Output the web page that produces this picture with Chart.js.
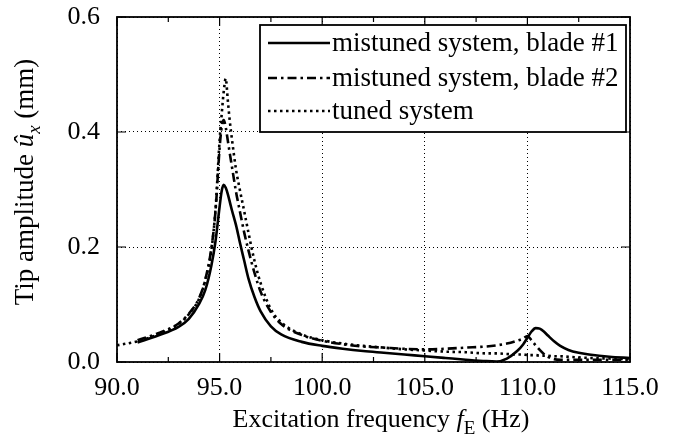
<!DOCTYPE html>
<html>
<head>
<meta charset="utf-8">
<script src="https://cdn.jsdelivr.net/npm/chart.js@4.4.1/dist/chart.umd.min.js"></script>
<style>
  html, body { margin: 0; padding: 0; background: #fff; }
  #wrap { width: 674px; height: 443px; }
</style>
</head>
<body>
<div id="wrap"><canvas id="chart" width="674" height="443"></canvas></div>
<script>
// ===== data =====
const freqs = [90, 91, 92, 93, 93.5, 94, 94.3, 94.6, 94.8, 95.0, 95.1, 95.2, 95.3, 95.4, 95.5, 95.6,
  95.8, 96.0, 96.2, 96.4, 96.7, 97.0, 97.5, 98.0, 99, 100, 101, 102, 103, 104, 105, 106, 107, 108,
  108.5, 109, 109.5, 109.8, 110, 110.2, 110.4, 110.6, 110.8, 111, 111.3, 111.6, 112, 112.5, 113, 114, 115];

const blade1Amp = [null, 0.034, 0.046, 0.061, 0.075, 0.101, 0.125, 0.168, 0.21, 0.27, 0.297, 0.308, 0.303, 0.292, 0.278, 0.264,
  0.238, 0.206, 0.176, 0.146, 0.113, 0.088, 0.062, 0.048, 0.035, 0.028, 0.023, 0.019, 0.016, 0.013, 0.010, 0.007, 0.004, 0.0015,
  0.001, 0.006, 0.019, 0.031, 0.042, 0.053, 0.059, 0.058, 0.053, 0.046, 0.036, 0.028, 0.021, 0.016, 0.013, 0.009, 0.007];

const blade2Amp = [null, 0.038, 0.050, 0.067, 0.084, 0.111, 0.143, 0.198, 0.262, 0.372, 0.408, 0.421, 0.408, 0.385, 0.362, 0.340,
  0.296, 0.260, 0.225, 0.195, 0.155, 0.122, 0.087, 0.066, 0.047, 0.037, 0.031, 0.027, 0.025, 0.023, 0.022, 0.023, 0.025, 0.027,
  0.029, 0.032, 0.037, 0.041, 0.045, 0.038, 0.029, 0.021, 0.014, 0.009, 0.005, 0.004, 0.004, 0.004, 0.004, 0.004, 0.004];

const tunedAmp = [0.029, 0.036, 0.048, 0.066, 0.083, 0.110, 0.142, 0.195, 0.265, 0.385, 0.43, 0.47, 0.493, 0.455, 0.418, 0.388,
  0.335, 0.297, 0.262, 0.226, 0.176, 0.137, 0.092, 0.069, 0.048, 0.038, 0.032, 0.028, 0.025, 0.022, 0.020, 0.018, 0.017, 0.015,
  0.015, 0.014, 0.013, 0.013, 0.012, 0.012, 0.012, 0.011, 0.011, 0.011, 0.010, 0.010, 0.009, 0.008, 0.007, 0.006, 0.005];

const seriesLabels = ['mistuned system, blade #1', 'mistuned system, blade #2', 'tuned system'];
const xTicks = [90, 95, 100, 105, 110, 115];
const yTicks = [0, 0.2, 0.4, 0.6];

const SERIF = '"Liberation Serif", "DejaVu Serif", serif';
const FS = 26;      // tick labels, x title
const FS_BIG = 27;  // legend, y title

const pts = arr => freqs.map((f, i) => ({ x: f, y: arr[i] }));

// draws a line of text made of plain / italic / subscript pieces, centred on (cx, cy)
function drawRich(ctx, parts, cx, cy, angle, size) {
    ctx.save();
    ctx.translate(cx, cy);
    ctx.rotate(angle);
    ctx.textAlign = 'left';
    ctx.textBaseline = 'alphabetic';
    ctx.fillStyle = '#000';
    const fontOf = p => `${p.italic ? 'italic ' : ''}${p.sub ? Math.round(size * 0.72) : size}px ${SERIF}`;
    let total = 0;
    const widths = parts.map(p => { ctx.font = fontOf(p); const w = ctx.measureText(p.t).width; total += w; return w; });
    let xx = -total / 2;
    parts.forEach((p, i) => {
        ctx.font = fontOf(p);
        ctx.fillText(p.t, xx, p.sub ? size * 0.26 : 0);
        xx += widths[i];
    });
    ctx.restore();
}

const framePlugin = {
    id: 'frame',
    afterDatasetsDraw(chart) {
        const { ctx, chartArea: a, scales: { x, y } } = chart;
        ctx.save();
        ctx.strokeStyle = '#000';
        ctx.setLineDash([]);
        ctx.lineWidth = 1.2;
        ctx.beginPath();
        xTicks.forEach((v, i) => {
            const px = x.getPixelForValue(v);
            ctx.moveTo(px, a.bottom); ctx.lineTo(px, a.bottom - 9);
            ctx.moveTo(px, a.top); ctx.lineTo(px, a.top + 9);
            if (i < xTicks.length - 1) {
                const pm = x.getPixelForValue((v + xTicks[i + 1]) / 2);
                ctx.moveTo(pm, a.bottom); ctx.lineTo(pm, a.bottom - 5);
                ctx.moveTo(pm, a.top); ctx.lineTo(pm, a.top + 5);
            }
        });
        yTicks.forEach(v => {
            const py = y.getPixelForValue(v);
            ctx.moveTo(a.left, py); ctx.lineTo(a.left + 9, py);
            ctx.moveTo(a.right, py); ctx.lineTo(a.right - 9, py);
        });
        ctx.stroke();
        ctx.lineWidth = 1.8;
        ctx.strokeRect(a.left, a.top, a.right - a.left, a.bottom - a.top);
        ctx.restore();
    },
    afterDraw(chart) {
        const { ctx } = chart;
        // legend box
        const bx = 260, by = 25, bw = 366, bh = 107;
        ctx.save();
        ctx.fillStyle = '#fff';
        ctx.fillRect(bx, by, bw, bh);
        ctx.strokeStyle = '#000';
        ctx.lineWidth = 1.8;
        ctx.setLineDash([]);
        ctx.strokeRect(bx, by, bw, bh);
        const rows = [43, 78, 111];
        chart.data.datasets.forEach((ds, i) => {
            ctx.strokeStyle = '#000';
            ctx.lineWidth = ds.borderWidth;
            ctx.setLineDash(ds.borderDash || []);
            ctx.beginPath();
            ctx.moveTo(268, rows[i]);
            ctx.lineTo(330, rows[i]);
            ctx.stroke();
            ctx.setLineDash([]);
            ctx.fillStyle = '#000';
            ctx.font = `${FS_BIG}px ${SERIF}`;
            ctx.textAlign = 'left';
            ctx.textBaseline = 'middle';
            ctx.fillText(ds.label, 332, rows[i] + 1);
        });
        ctx.restore();

        // axis titles
        drawRich(ctx, [
            { t: 'Excitation frequency ' }, { t: 'f', italic: true }, { t: 'E', sub: true }, { t: ' (Hz)' }
        ], 381, 427, 0, FS);
        drawRich(ctx, [
            { t: 'Tip amplitude ' }, { t: 'û', italic: true }, { t: 'x', italic: true, sub: true }, { t: ' (mm)' }
        ], 33, 182, -Math.PI / 2, FS_BIG);
    }
};

const lineBase = {
    borderColor: '#000',
    borderWidth: 2.6,
    pointRadius: 0,
    fill: false,
    cubicInterpolationMode: 'monotone'
};

new Chart(document.getElementById('chart'), {
    type: 'line',
    data: {
        datasets: [
            { ...lineBase, label: seriesLabels[0], data: pts(blade1Amp), borderDash: [] },
            { ...lineBase, label: seriesLabels[1], data: pts(blade2Amp), borderDash: [9, 4, 2.5, 4] },
            { ...lineBase, label: seriesLabels[2], data: pts(tunedAmp), borderDash: [2.5, 3.5] }
        ]
    },
    options: {
        responsive: false,
        animation: false,
        devicePixelRatio: 1,
        layout: { padding: { left: 0, right: 44, top: 17, bottom: 0 } },
        plugins: { legend: { display: false }, tooltip: { enabled: false } },
        scales: {
            x: {
                type: 'linear',
                min: 90, max: 115,
                afterBuildTicks: s => { s.ticks = xTicks.map(v => ({ value: v })); },
                afterFit: s => { s.height = 81; s.paddingLeft = 0; s.paddingRight = 0; },
                ticks: { color: '#000', font: { family: SERIF, size: FS }, padding: 11, maxRotation: 0,
                    callback: v => Number(v).toFixed(1) },
                grid: { color: '#000', lineWidth: 1, drawTicks: false },
                border: { display: false, dash: [1, 3] }
            },
            y: {
                type: 'linear',
                min: 0, max: 0.6,
                afterBuildTicks: s => { s.ticks = yTicks.map(v => ({ value: v })); },
                afterFit: s => { s.width = 117; s.paddingTop = 0; s.paddingBottom = 0; },
                ticks: { color: '#000', font: { family: SERIF, size: FS }, padding: 17,
                    callback: v => Number(v).toFixed(1) },
                grid: { color: '#000', lineWidth: 1, drawTicks: false },
                border: { display: false, dash: [1, 3] }
            }
        }
    },
    plugins: [framePlugin]
});
</script>
</body>
</html>
